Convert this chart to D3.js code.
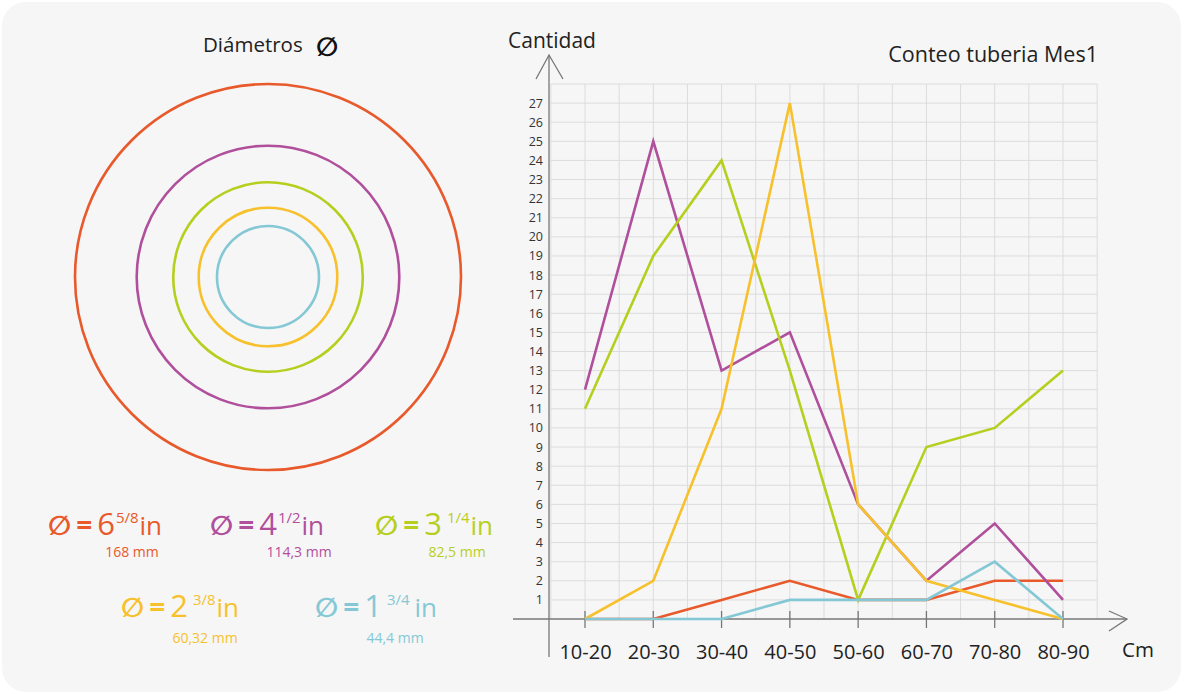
<!DOCTYPE html>
<html>
<head>
<meta charset="utf-8">
<script src="https://cdn.jsdelivr.net/npm/d3@7"></script>
<style>
  body { margin: 0; background: #ffffff; }
  svg { display: block; font-family: "Open Sans", sans-serif; }
</style>
</head>
<body>
<div id="chart"></div>
<script>
// categories (Cm ranges)
var categories = ["10-20", "20-30", "30-40", "40-50", "50-60", "60-70", "70-80", "80-90"];

// counts per diameter
var serie658 = [0, 0, 1, 2, 1, 1, 2, 2];
var serie412 = [12, 25, 13, 15, 6, 2, 5, 1];
var serie314 = [11, 19, 24, 13, 1, 9, 10, 13];
var serie238 = [0, 2, 11, 27, 6, 2, 1, 0];
var serie134 = [0, 0, 0, 1, 1, 1, 3, 0];

// diameters
var inchWhole = ["6", "4", "3", "2", "1"];
var inchFrac  = ["5/8", "1/2", "1/4", "3/8", "3/4"];
var diamMm    = [168, 114.3, 82.5, 60.32, 44.4];
var mmLabels  = ["168 mm", "114,3 mm", "82,5 mm", "60,32 mm", "44,4  mm"];
var colors    = ["#e8592b", "#b04f9c", "#b6cf1f", "#f7c12d", "#85c8d5"];

// y ticks
var yTicks = d3.range(1, 28);

var series = [serie658, serie412, serie314, serie238, serie134];

var W = 1184, H = 694;

var svg = d3.select("#chart").append("svg")
    .attr("width", W)
    .attr("height", H);

// panel background
svg.append("rect")
    .attr("x", 2).attr("y", 2)
    .attr("width", 1179).attr("height", 690)
    .attr("rx", 24).attr("ry", 24)
    .attr("fill", "#f6f6f6");

// ---------- left: circles ----------
var cx = 268, cy = 277;
var rScale = d3.scaleLinear().domain([0, 168]).range([0, 193]);

svg.append("text")
    .attr("x", 203).attr("y", 52)
    .attr("font-size", 20.5)
    .attr("fill", "#222")
    .text("Diámetros");
svg.append("text")
    .attr("x", 316).attr("y", 56)
    .attr("font-size", 26)
    .attr("font-family", "DejaVu Sans")
    .attr("font-weight", "bold")
    .attr("font-style", "oblique")
    .attr("fill", "#111")
    .text("∅");

svg.append("g").selectAll("circle")
    .data(diamMm)
  .enter().append("circle")
    .attr("cx", cx).attr("cy", cy)
    .attr("r", function(d) { return rScale(d); })
    .attr("fill", "none")
    .attr("stroke", function(d, i) { return colors[i]; })
    .attr("stroke-width", 2.6);

// legend
var legendPos = [[48, 535], [210, 535], [375, 535], [121, 617], [315, 617]];
var mmPos = [[132, 557], [299, 557], [457, 557], [205, 643], [395, 643]];

inchWhole.forEach(function(w, i) {
  var t = svg.append("text")
      .attr("x", legendPos[i][0]).attr("y", legendPos[i][1])
      .attr("fill", colors[i]);
  t.append("tspan")
      .attr("font-family", "DejaVu Sans")
      .attr("font-weight", "bold")
      .attr("font-style", "oblique")
      .attr("font-size", 27)
      .text("∅");
  t.append("tspan")
      .attr("font-size", 28)
      .attr("font-weight", "bold")
      .attr("dx", 5)
      .text("=");
  t.append("tspan")
      .attr("font-size", 31)
      .attr("dx", 5)
      .text(w);
  t.append("tspan")
      .attr("font-size", 15)
      .attr("dx", i >= 2 ? 5 : 1)
      .attr("dy", -12)
      .text(inchFrac[i]);
  t.append("tspan")
      .attr("font-size", 26)
      .attr("dx", i == 4 ? 5 : 1)
      .attr("dy", 12)
      .text("in");

  svg.append("text")
      .attr("x", mmPos[i][0]).attr("y", mmPos[i][1])
      .attr("text-anchor", "middle")
      .attr("font-size", 14)
      .attr("fill", colors[i])
      .text(mmLabels[i]);
});

// ---------- right: line chart ----------
var x = d3.scalePoint().domain(categories).range([585, 1063]);
var xi = d3.scaleLinear().domain([0, categories.length - 1]).range([585, 1063]);
var y = d3.scaleLinear().domain([0, 28]).range([619, 84]);

var grid = svg.append("g").attr("stroke", "#dcdcdc").attr("stroke-width", 1);
grid.selectAll(".h")
    .data(d3.range(1, 29))
  .enter().append("line")
    .attr("x1", xi(-0.5)).attr("x2", xi(7.5))
    .attr("y1", function(d) { return y(d); })
    .attr("y2", function(d) { return y(d); });
grid.selectAll(".v")
    .data(d3.range(0, 17).map(function(k) { return -0.5 + k * 0.5; }))
  .enter().append("line")
    .attr("x1", function(d) { return xi(d); })
    .attr("x2", function(d) { return xi(d); })
    .attr("y1", y(28)).attr("y2", y(0));

// y axis with labels
var yAxis = svg.append("g")
    .attr("transform", "translate(549,0)")
    .call(d3.axisLeft(y).tickValues(yTicks).tickSize(0).tickPadding(6));
yAxis.select(".domain").remove();
yAxis.selectAll("text")
    .attr("font-family", "Open Sans")
    .attr("font-size", 12.5)
    .attr("fill", "#333");

// x axis
var xAxis = svg.append("g")
    .attr("transform", "translate(0," + y(0) + ")")
    .call(d3.axisBottom(x).tickSize(0).tickPadding(26));
xAxis.select(".domain").remove();
xAxis.selectAll("text")
    .attr("font-family", "Open Sans")
    .attr("font-size", 20)
    .attr("fill", "#222");

var axisColor = "#777";
svg.append("line")
    .attr("x1", 513).attr("x2", 1127)
    .attr("y1", y(0)).attr("y2", y(0))
    .attr("stroke", axisColor).attr("stroke-width", 1.3);
svg.append("polyline")
    .attr("points", "1109,611 1127," + y(0) + " 1109,631")
    .attr("fill", "none").attr("stroke", axisColor).attr("stroke-width", 1.3);
svg.append("line")
    .attr("x1", 549).attr("x2", 549)
    .attr("y1", 55).attr("y2", 657)
    .attr("stroke", axisColor).attr("stroke-width", 1.3);
svg.append("polyline")
    .attr("points", "536,79 549,55 563,79")
    .attr("fill", "none").attr("stroke", axisColor).attr("stroke-width", 1.3);

svg.append("g").selectAll("line")
    .data(categories)
  .enter().append("line")
    .attr("x1", function(d) { return x(d); })
    .attr("x2", function(d) { return x(d); })
    .attr("y1", y(0) - 8).attr("y2", y(0) + 9)
    .attr("stroke", axisColor).attr("stroke-width", 1.3);

svg.append("text")
    .attr("x", 508).attr("y", 48)
    .attr("font-size", 21).attr("fill", "#222")
    .text("Cantidad");
svg.append("text")
    .attr("x", 1098).attr("y", 62)
    .attr("text-anchor", "end")
    .attr("font-size", 21.5).attr("fill", "#222")
    .text("Conteo tuberia Mes1");
svg.append("text")
    .attr("x", 1122).attr("y", 657)
    .attr("font-size", 20.5).attr("fill", "#222")
    .text("Cm");

// lines
var line = d3.line()
    .x(function(d, i) { return x(categories[i]); })
    .y(function(d) { return y(d); });

svg.append("g").selectAll("path")
    .data(series)
  .enter().append("path")
    .attr("d", line)
    .attr("fill", "none")
    .attr("stroke", function(d, i) { return colors[i]; })
    .attr("stroke-width", 2.6)
    .attr("stroke-linejoin", "miter");
</script>
</body>
</html>
